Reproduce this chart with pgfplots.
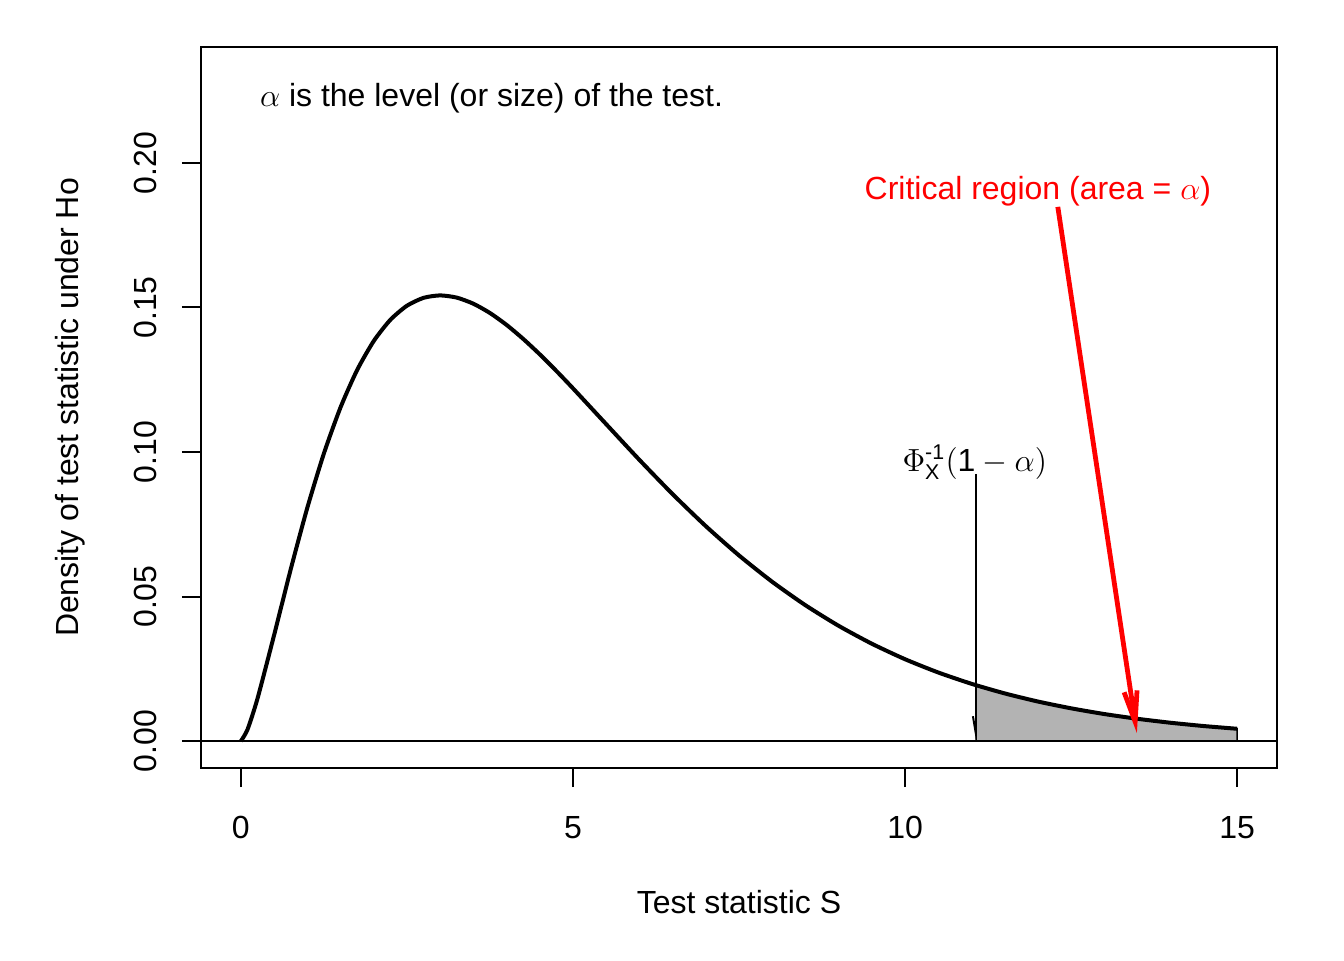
\documentclass[border=0pt,12pt]{standalone}
\usepackage{fontspec}
\setmainfont{Liberation Sans}
\usepackage{amsmath}
\usepackage{pgfplots}
\pgfplotsset{compat=1.18}
\usetikzlibrary{arrows.meta}
\definecolor{shade}{RGB}{179,179,179}

% chi-square density, 5 df
\pgfplotstableread{
x y
0 0
0.1 0.0040
0.25 0.01467
0.5 0.03662
0.75 0.05936
1 0.08066
1.25 0.09948
1.5 0.11540
1.75 0.12833
2 0.13837
2.25 0.14571
2.5 0.15060
2.75 0.15333
3 0.15418
3.25 0.15342
3.5 0.15131
3.75 0.14809
4 0.14398
4.25 0.13915
4.5 0.13380
4.75 0.12805
5 0.12204
5.5 0.10965
6 0.09730
6.5 0.08545
7 0.07437
7.5 0.06424
8 0.05511
8.5 0.04701
9 0.03989
9.5 0.03369
10 0.02833
10.5 0.02374
11 0.01983
11.5 0.01651
12 0.01370
12.5 0.01135
13 0.00937
13.5 0.00772
14 0.00635
14.5 0.00521
15 0.00427
}\dens

\pgfplotstableread{
x y
11.07 0
11.07 0.01933
11.5 0.01651
12 0.01370
12.5 0.01135
13 0.00937
13.5 0.00772
14 0.00635
14.5 0.00521
15 0.00427
15 0
}\tail

\begin{document}
\begin{tikzpicture}
\useasboundingbox (-75.375pt,-72pt) rectangle (428.625pt,288pt);
\begin{axis}[
    scale only axis,
    width=403.5pt, height=270.375pt,
    xmin=-0.6, xmax=15.6,
    ymin=-0.0093, ymax=0.2401,
    axis line style={line width=0.8pt},
    xtick={0,5,10,15},
    ytick={0,0.05,0.1,0.15,0.2},
    yticklabels={0.00,0.05,0.10,0.15,0.20},
    /pgf/number format/assume math mode=true,
    xtick pos=bottom, ytick pos=left,
    tick align=outside,
    major tick length=7.2pt,
    tick style={black, line width=0.75pt},
    xticklabel style={anchor=base, yshift=-19.4pt},
    yticklabel style={anchor=base, xshift=-9.4pt, rotate=90},
    xlabel={Test statistic S},
    ylabel={Density of test statistic under Ho},
    xlabel style={at={(axis description cs:0.5,0)}, anchor=base, yshift=-54.4pt},
    ylabel style={at={([xshift=-46.1pt]axis description cs:0,0.5)}, anchor=base},
    clip=false,
]
\draw[line width=0.75pt, -{Straight Barb[length=7.1pt, width=2.4pt]}]
    (axis cs:11.07,0.0924) -- (axis cs:11.07,0);
\addplot[fill=shade, draw=black, line width=0.6pt] table {\tail} -- cycle;
\addplot[black, line width=1.5pt, smooth, tension=0.4] table {\dens};
\draw[line width=0.75pt] (axis cs:-0.6,0) -- (axis cs:15.6,0);
\draw[red, line width=1.8pt, -{Straight Barb[length=11.5pt, width=4.9pt]}]
    (axis cs:12.30,0.1848) -- (axis cs:13.49,0.0028);
\node[anchor=base west] at (axis cs:0.12,0.2195) {$\alpha$ is the level (or size) of the test.};
\node[anchor=base, red] at (axis cs:12,0.1873) {Critical region (area = $\alpha$)};
\node[anchor=base] at (axis cs:11.05,0.0934) {$\Phi_{\text{X}}^{\text{-1}}(\text{1} - \alpha)$};
\end{axis}
\end{tikzpicture}
\end{document}
